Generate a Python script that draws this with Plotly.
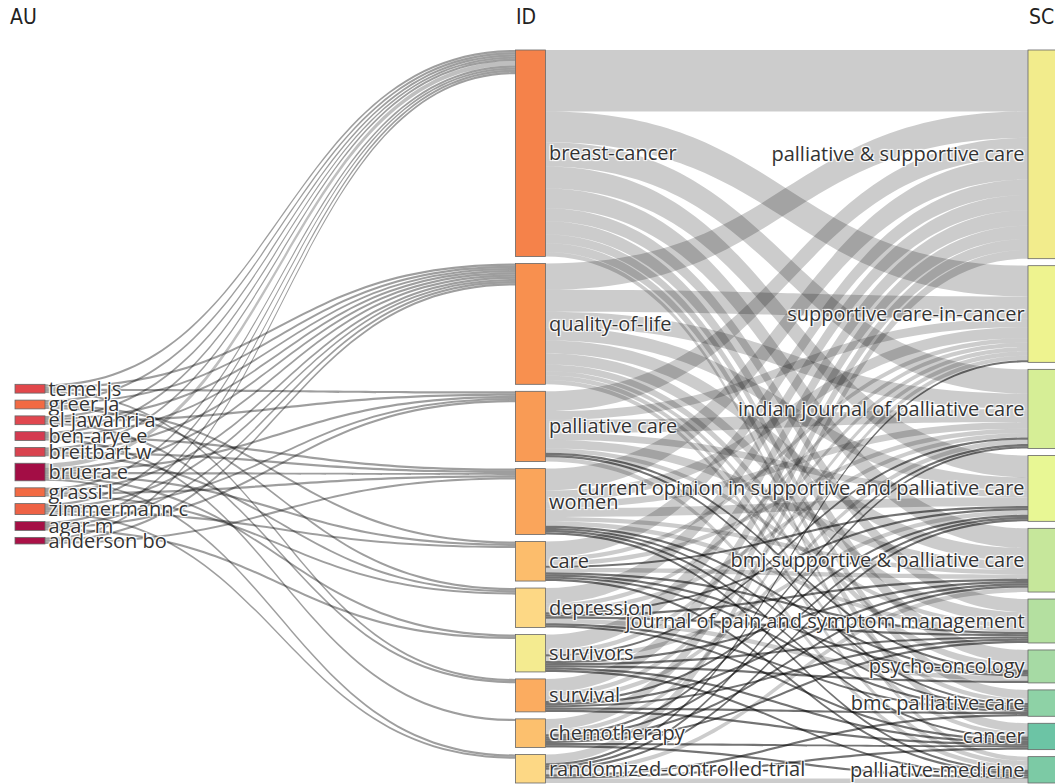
import plotly.graph_objects as go

# three fields: authors (AU) -> keywords plus (ID) -> sources (SC)
au_labels = ["temel js", "greer ja", "el-jawahri a", "ben-arye e", "breitbart w",
             "bruera e", "grassi l", "zimmermann c", "agar m", "anderson bo"]
id_labels = ["breast-cancer", "quality-of-life", "palliative care", "women", "care",
             "depression", "survivors", "survival", "chemotherapy",
             "randomized-controlled-trial"]
sc_labels = ["palliative & supportive care", "supportive care-in-cancer",
             "indian journal of palliative care",
             "current opinion in supportive and palliative care",
             "bmj supportive & palliative care",
             "journal of pain and symptom management", "psycho-oncology",
             "bmc palliative care", "cancer", "palliative-medicine"]

au_colors = ["#e2474b", "#f26a43", "#e0474f", "#d43a50", "#d9434f",
             "#a30d45", "#f26a43", "#ee6245", "#a50f45", "#ab1147"]
id_colors = ["#f5824a", "#f8904f", "#f99b55", "#faa55b", "#fcbd6c",
             "#fdd885", "#f4eb90", "#fbac60", "#fcc06e", "#fdd885"]
sc_colors = ["#f2ec8c", "#eef38f", "#d6ee96", "#e8f794", "#c6e79b",
             "#b4e0a0", "#a6daa4", "#8ed2a6", "#6cc4a5", "#7ccaa5"]

# rows: authors, cols: id_labels
au_id = [
    [1, 1, 1, 0, 0, 0, 0, 1, 0, 0],
    [1, 1, 0, 0, 1, 1, 0, 0, 0, 0],
    [1, 1, 1, 0, 0, 0, 0, 1, 0, 0],
    [1, 1, 0, 1, 0, 0, 0, 0, 1, 0],
    [1, 1, 0, 1, 0, 1, 0, 0, 0, 0],
    [2, 1, 1, 1, 1, 0, 1, 0, 0, 1],
    [1, 1, 0, 1, 0, 1, 0, 0, 0, 0],
    [1, 1, 1, 0, 1, 0, 0, 0, 0, 1],
    [1, 1, 1, 0, 0, 0, 1, 0, 0, 0],
    [1, 1, 0, 1, 0, 0, 0, 0, 0, 0],
]
# rows: id_labels, cols: sc_labels
id_sc = [
    [28, 14, 11, 10, 9, 6, 6, 4, 4, 2],
    [12, 10, 7, 6, 6, 5, 3, 2, 2, 2],
    [9, 4, 6, 3, 4, 2, 1, 1, 0, 2],
    [10, 5, 3, 4, 2, 2, 1, 1, 1, 1],
    [7, 2, 2, 1, 2, 1, 1, 1, 0, 1],
    [7, 2, 2, 1, 1, 1, 2, 1, 1, 0],
    [7, 2, 1, 2, 1, 1, 1, 0, 1, 1],
    [6, 2, 2, 1, 1, 1, 0, 1, 1, 0],
    [5, 2, 1, 1, 1, 1, 0, 0, 1, 1],
    [4, 1, 1, 1, 2, 0, 0, 1, 1, 2],
]

n = len(au_labels)
labels = au_labels + id_labels + sc_labels
colors = au_colors + id_colors + sc_colors

source, target, value, link_col = [], [], [], []
for i, row in enumerate(au_id):
    for j, v in enumerate(row):
        if v:
            source.append(i); target.append(n + j); value.append(v)
            link_col.append("rgba(0,0,0,0.38)" if v <= 1 else "rgba(0,0,0,0.25)")
for i, row in enumerate(id_sc):
    for j, v in enumerate(row):
        if v:
            source.append(n + i); target.append(2 * n + j); value.append(v)
            # single co-occurrences show up as dark threads
            link_col.append("rgba(0,0,0,0.55)" if v <= 1 else "rgba(0,0,0,0.2)")

# node placement: keep the column order as in the source plot
# (page body adds an 8px offset, so the figure is sized to match)
W, H = 1050, 784
mt, mb, ml, mr = 42, 9, 7, 0
pw, ph = W - ml - mr, H - mt - mb
pad, th = 7, 30

au_val = [sum(r) for r in au_id]
id_val = [max(sum(id_sc[i]), sum(r[i] for r in au_id)) for i in range(n)]
sc_val = [sum(r[j] for r in id_sc) for j in range(n)]
ky = (ph - (n - 1) * pad) / max(sum(id_val), sum(sc_val))


def stack(vals, top):
    ys = []
    for v in vals:
        h = v * ky
        ys.append((top + h / 2) / ph)
        top += h + pad
    return ys


au_block = sum(au_val) * ky + (n - 1) * pad
au_y = stack(au_val, 0.565 * ph - au_block / 2)
id_y = stack(id_val, 0)
sc_y = stack(sc_val, 0)

x_au = (th / 2) / pw
x_id = (530.5 - 8 - ml) / pw
x_sc = 1 - (th / 2) / pw
node_x = [x_au] * n + [x_id] * n + [x_sc] * n
node_y = au_y + id_y + sc_y

fig = go.Figure(go.Sankey(
    arrangement="snap",
    node=dict(
        label=labels,
        color=colors,
        x=node_x,
        y=node_y,
        pad=pad,
        thickness=th,
        line=dict(color="#666", width=0.8),
    ),
    link=dict(
        source=source,
        target=target,
        value=value,
        color=link_col,
        line=dict(width=0),
    ),
    textfont=dict(family="Open Sans", size=20, color="#333"),
))

for txt, xx, anchor in [("AU", -ml / pw, "left"), ("ID", x_id - 0.004, "center"),
                        ("SC", x_sc - 0.001, "center")]:
    fig.add_annotation(text=txt, x=xx, y=1 + 33 / ph, xref="paper", yref="paper",
                       xanchor=anchor, yanchor="middle", showarrow=False,
                       font=dict(family="DejaVu Sans Condensed", size=21, color="#222"))

fig.update_layout(
    width=W, height=H,
    margin=dict(l=ml, r=mr, t=mt, b=mb),
    paper_bgcolor="white",
    font=dict(family="Open Sans", size=20, color="#333"),
)

fig.write_html("out.html")
